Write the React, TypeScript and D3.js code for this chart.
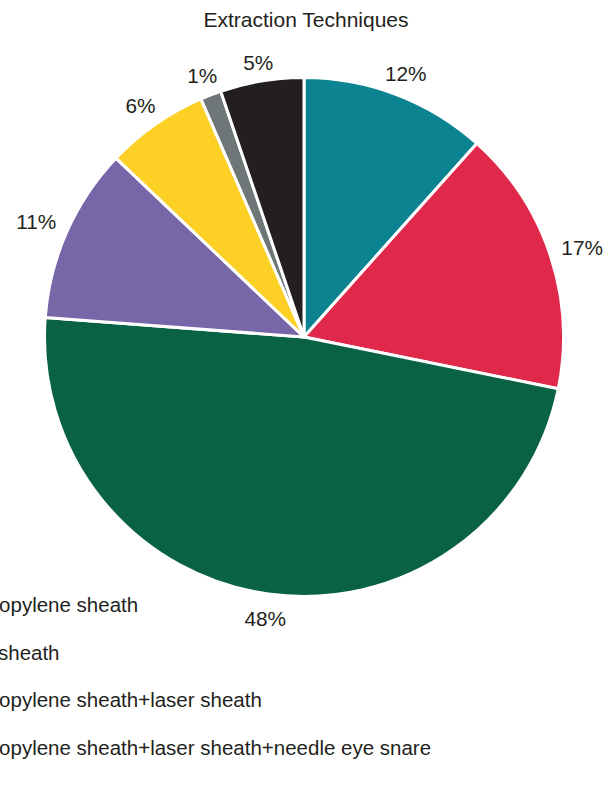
import React from "react";
import * as d3 from "d3";

const categories = ["A", "B", "C", "D", "E", "F", "G"];
const shares = [11.6, 16.6, 48.0, 10.9, 6.4, 1.3, 5.2];
const colors = ["#0B8391", "#E0294A", "#0A6245", "#7766A8", "#FCD025", "#6F7678", "#231F20"];
const legendItems = [
  "Polypropylene sheath",
  "Laser sheath",
  "Polypropylene sheath+laser sheath",
  "Polypropylene sheath+laser sheath+needle eye snare",
];
const title = "Extraction Techniques";

const W = 606;
const H = 808;
const cx = 304;
const cy = 337;
const R = 259.5;
const FONT = "'Liberation Sans', Arial, Helvetica, sans-serif";
const FS = 20.5;
const LFS = 20.8;

export default function App() {
  const pie = d3.pie<number>().sort(null).value((d) => d);
  const arcs = pie(shares);
  const arc = d3.arc<d3.PieArcDatum<number>>().innerRadius(0).outerRadius(R);
  const fmt = (v: number) => `${Math.round(v)}%`;

  const legendY = d3.scaleLinear().domain([0, 1]).range([612, 659.5]);

  return (
    <svg
      width={W}
      height={H}
      style={{ position: "absolute", left: 0, top: 0, background: "#fff" }}
      fontFamily={FONT}
    >
      <text x={306} y={27} textAnchor="middle" fontSize={21} fill="#231F20">
        {title}
      </text>
      <g transform={`translate(${cx},${cy})`}>
        {arcs.map((a, i) => (
          <path key={categories[i]} d={arc(a) || ""} fill={colors[i]} stroke="#fff" strokeWidth={3} strokeLinejoin="round" />
        ))}
        {arcs.map((a, i) => {
          const mid = (a.startAngle + a.endAngle) / 2;
          const txt = fmt(shares[i]);
          const hw = (txt.length === 3 ? 2.0 : 1.445) * LFS / 2;
          const hh = 7.5;
          const s = Math.sin(mid);
          const c = Math.cos(mid);
          const d = 271 + Math.abs(s) * hw + Math.abs(c) * hh;
          return (
            <text
              key={"l" + i}
              x={s * d}
              y={-c * d}
              dy="0.5em"
              textAnchor="middle"
              fontSize={LFS}
              fill="#231F20"
            >
              {txt}
            </text>
          );
        })}
      </g>
      {legendItems.map((t, i) => (
        <text key={t} x={-59} y={legendY(i)} fontSize={FS} fill="#231F20">
          {t}
        </text>
      ))}
    </svg>
  );
}
